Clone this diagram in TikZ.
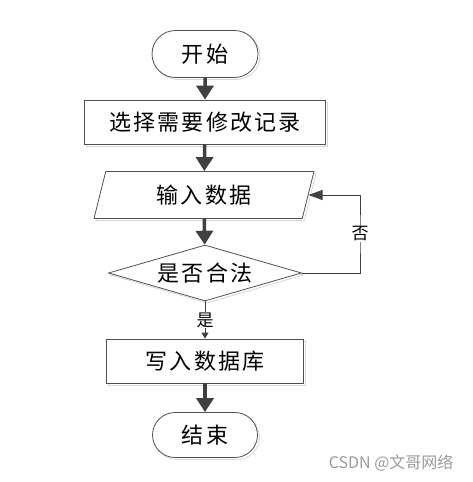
\documentclass[tikz,border=0pt]{standalone}
\usepackage{fontspec}
\usepackage{tikz}
\usetikzlibrary{shapes.geometric,shapes.misc,arrows.meta,shadows}
\newfontfamily\cjk{Noto Sans CJK SC}
\definecolor{FlowLine}{HTML}{404040}
\definecolor{FlowEdge}{HTML}{505050}
\definecolor{FlowShade}{HTML}{D6D6D6}
\definecolor{FlowMark}{HTML}{9A9A9A}

\begin{document}
\begin{tikzpicture}[x=1pt,y=-1pt,
    every node/.style={font=\cjk\fontsize{22}{26}\selectfont\addfontfeature{LetterSpace=10},text=black},
    flowshape/.style={draw=FlowEdge,line width=0.8pt,fill=white,inner sep=0pt,
      drop shadow={shadow xshift=2pt,shadow yshift=-2pt,fill=none,draw=FlowShade,opacity=1}},
    terminal/.style={flowshape,rounded rectangle,minimum width=106pt,minimum height=47pt},
    process/.style={flowshape,rectangle,minimum height=44pt},
    inout/.style={flowshape,trapezium,trapezium left angle=60,trapezium right angle=120,
      trapezium stretches body,minimum width=220pt,minimum height=47pt},
    decision/.style={flowshape,diamond,aspect=3.45,minimum width=193pt,minimum height=56pt},
    flow/.style={FlowLine,line width=3.5pt,-{Triangle[width=17pt,length=14pt]}},
    back/.style={FlowLine,line width=1pt,-{Triangle[width=10pt,length=14pt]}},
    yes/.style={FlowLine,line width=1pt,-{Triangle[width=7pt,length=6pt]}},
    tag/.style={fill=white,inner sep=1pt,font=\cjk\fontsize{17}{20}\selectfont}]
  \useasboundingbox (0,0) rectangle (472,482);

  % steps of the flow
  \node[terminal] (start) at (205,54) {开始};
  \node[process,minimum width=241pt] (pick) at (205,122) {选择需要修改记录};
  \node[inout] (input) at (204,195) {输入数据};
  \node[decision] (check) at (205,273) {是否合法};
  \node[process,minimum width=197pt] (save) at (205,361) {写入数据库};
  \node[terminal,minimum width=105pt,minimum height=45pt] (stop) at (205,435) {结束};

  % connectors
  \draw[flow] (start) -- (pick);
  \draw[flow] (pick) -- (input);
  \draw[flow] (input) -- (check);
  \draw[yes] (check) -- node[tag] (yeslbl) {是} (save);
  \draw[flow] (save) -- (stop);
  \coordinate (bend) at (360,234);
  \draw[back] (check.east) -| (bend) |- (input.east);
  \node[tag] (nolbl) at (bend) {否};

  \node[font=\cjk\fontsize{16}{18}\selectfont,text=FlowMark,anchor=east] (mark) at (457,463) {CSDN @文哥网络};
\end{tikzpicture}
\end{document}
